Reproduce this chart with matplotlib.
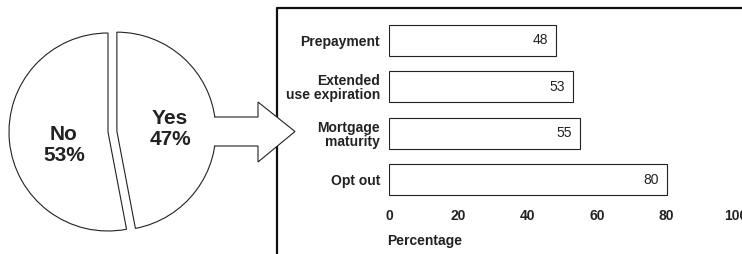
import matplotlib
matplotlib.use("Agg")
import matplotlib.pyplot as plt
from matplotlib.patches import Polygon
from matplotlib.lines import Line2D

plt.rcParams['font.family'] = ['Liberation Sans', 'DejaVu Sans']

# Data
pie_labels = ["Yes", "No"]
pie_values = [47, 53]
categories = ["Prepayment", "Extended\nuse expiration", "Mortgage\nmaturity", "Opt out"]
values = [48, 53, 55, 80]
xticks = [0, 20, 40, 60, 80, 100]
xlabel = "Percentage"

W, H = 742, 254
fig = plt.figure(figsize=(W / 100, H / 100), dpi=100)

def fx(px):
    return px / W

def fy(py):
    return 1 - py / H

# ---- Pie ----
r_px = 99
cx, cy = 108, 132
ext = 1.2
pax = fig.add_axes([fx(cx - r_px * ext), fy(cy + r_px * ext),
                    2 * r_px * ext / W, 2 * r_px * ext / H])
pax.set_xlim(-ext, ext)
pax.set_ylim(-ext, ext)
pax.axis('off')
wedges, _ = pax.pie(pie_values, startangle=90, counterclock=False,
                    explode=[0.09, 0], colors=['white', 'white'],
                    wedgeprops=dict(edgecolor='#222222', linewidth=0.8),
                    radius=1, frame=False)
pax.set_xlim(-ext, ext)
pax.set_ylim(-ext, ext)
pax.set_aspect('auto')
pax.text(0.626, 0.03, f"{pie_labels[0]}\n{pie_values[0]}%", ha='center', va='center',
         fontsize=15, fontweight='bold', color='#222222', linespacing=1.15)
pax.text(-0.444, -0.131, f"{pie_labels[1]}\n{pie_values[1]}%", ha='center', va='center',
         fontsize=15, fontweight='bold', color='#222222', linespacing=1.15)

# ---- Frame ----
frame = Line2D([fx(277), fx(277), fx(W + 5)], [fy(H + 5), fy(8), fy(8)],
               transform=fig.transFigure, color='#111111', linewidth=1.6, zorder=2)
fig.add_artist(frame)

# ---- Arrow ----
arrow_pts = [(214, 117), (258, 117), (258, 102), (295, 131.5), (258, 162),
             (258, 146), (214, 146)]
arrow = Polygon([(fx(x), fy(y)) for x, y in arrow_pts], closed=False,
                transform=fig.transFigure, facecolor='white', edgecolor='#222222',
                linewidth=0.8, zorder=3)
fig.add_artist(arrow)

# ---- Bars ----
ax_left, ax_right = 389, 736
ax_top, ax_bot = 17.3, 202.7
ax = fig.add_axes([fx(ax_left), fy(ax_bot), (ax_right - ax_left) / W, (ax_bot - ax_top) / H])
ypos = list(range(len(categories)))
ax.barh(ypos, values, height=0.67, color='white', edgecolor='#222222', linewidth=0.8)
for y, v in zip(ypos, values):
    ax.annotate(str(v), xy=(v, y), xytext=(-5.5, 0), textcoords='offset points',
                ha='right', va='center', fontsize=10, color='#222222')
ax.set_xlim(0, 100)
ax.set_ylim(len(categories) - 0.5, -0.5)
ax.set_yticks(ypos)
ax.set_yticklabels(categories, fontsize=10, fontweight='bold', linespacing=1.0)
ax.set_xticks(xticks)
ax.set_xticklabels([str(t) for t in xticks], fontsize=10, fontweight='bold')
ax.tick_params(axis='both', length=0, colors='#222222')
ax.tick_params(axis='y', pad=6.5)
ax.tick_params(axis='x', pad=4.5)
for s in ax.spines.values():
    s.set_visible(False)
ax.patch.set_visible(False)
ax.text(-0.005, -(241 - ax_bot) / (ax_bot - ax_top), xlabel, transform=ax.transAxes,
        ha='left', va='center', fontsize=10, fontweight='bold', color='#222222')

fig.savefig("out.png", dpi=100)
